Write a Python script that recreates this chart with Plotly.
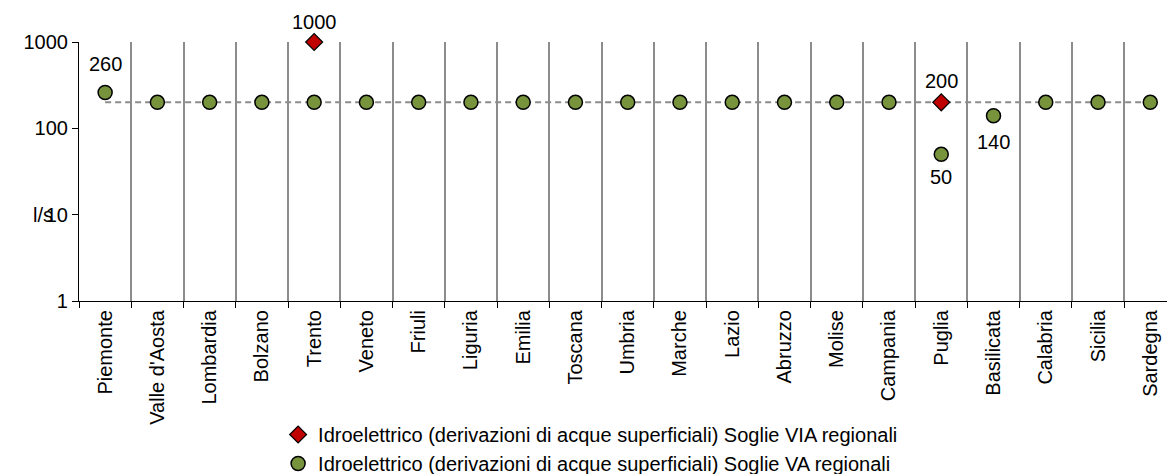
import math
import plotly.graph_objects as go

categories = ["Piemonte", "Valle d'Aosta", "Lombardia", "Bolzano", "Trento", "Veneto", "Friuli",
              "Liguria", "Emilia", "Toscana", "Umbria", "Marche", "Lazio", "Abruzzo", "Molise",
              "Campania", "Puglia", "Basilicata", "Calabria", "Sicilia", "Sardegna"]

soglie_via = [None, None, None, None, 1000, None, None, None, None, None, None, None, None, None,
              None, None, 200, None, None, None, None]

soglie_va = [260, 200, 200, 200, 200, 200, 200, 200, 200, 200, 200, 200, 200, 200, 200, 200,
             50, 140, 200, 200, 200]

riferimento = [200, 200, 200, 200, 200, 200, 200, 200, 200, 200, 200, 200, 200, 200, 200, 200,
               200, 200, 200, 200, 200]

# which points carry a data label
via_labelled = ["Trento", "Puglia"]
va_labelled = ["Piemonte", "Puglia", "Basilicata"]

# label offsets (pixels, styling only)
via_label_shift = {"Trento": 20, "Puglia": 21}
va_label_shift = {"Piemonte": 29, "Puglia": -23, "Basilicata": -26}

FONT = "Liberation Sans, Arial, sans-serif"
FS = 20

fig = go.Figure()

fig.add_trace(go.Scatter(
    x=categories, y=riferimento, mode="lines",
    line=dict(color="#8c8c8c", width=2, dash="6px,4px"),
    showlegend=False, hoverinfo="skip"))

fig.add_trace(go.Scatter(
    x=categories, y=soglie_via, mode="markers",
    name="Idroelettrico (derivazioni di acque superficiali) Soglie VIA regionali",
    marker=dict(symbol="diamond", size=13, color="#C00000", line=dict(color="black", width=1.2)),
    cliponaxis=False))

fig.add_trace(go.Scatter(
    x=categories, y=soglie_va, mode="markers",
    name="Idroelettrico (derivazioni di acque superficiali) Soglie VA regionali",
    marker=dict(symbol="circle", size=14, color="#77933C", line=dict(color="black", width=1.5)),
    cliponaxis=False))

# annotations on a log axis take log10 of the value
for cat, val in zip(categories, soglie_via):
    if cat in via_labelled and val is not None:
        fig.add_annotation(x=cat, y=math.log10(val), text=f"{val:g}", showarrow=False,
                           yshift=via_label_shift[cat], xanchor="center", yanchor="middle",
                           font=dict(family=FONT, size=FS, color="black"))

for cat, val in zip(categories, soglie_va):
    if cat in va_labelled:
        fig.add_annotation(x=cat, y=math.log10(val), text=f"{val:g}", showarrow=False,
                           yshift=va_label_shift[cat], xanchor="center", yanchor="middle",
                           font=dict(family=FONT, size=FS, color="black"))

fig.add_annotation(text="l/s", xref="paper", yref="y", x=-0.033, y=1, xanchor="center",
                   yanchor="middle", showarrow=False, font=dict(family=FONT, size=FS, color="black"))

fig.update_layout(
    width=1167, height=482,
    margin=dict(l=79, r=0, t=42, b=181, autoexpand=False),
    paper_bgcolor="white", plot_bgcolor="white",
    font=dict(family=FONT, size=FS, color="black"),
    showlegend=True,
    legend=dict(orientation="v", x=0.183, xanchor="left", yref="container", y=0.139, yanchor="top",
                font=dict(family=FONT, size=FS, color="black"), tracegroupgap=0,
                bgcolor="rgba(0,0,0,0)"),
    xaxis=dict(type="category", range=[-0.5, 20.32], tickson="boundaries",
               showgrid=True, gridcolor="#8c8c8c", gridwidth=1.5,
               showline=True, linecolor="black", linewidth=1.2,
               ticks="outside", ticklen=6, tickcolor="black", tickwidth=1.2,
               tickangle=-90, tickfont=dict(family=FONT, size=FS, color="black")),
    yaxis=dict(type="log", range=[0, 3], tickvals=[1, 10, 100, 1000],
               ticktext=["1", "10", "100", "1000"], showgrid=False,
               showline=True, linecolor="black", linewidth=1.2,
               ticks="outside", ticklen=6, tickcolor="black", tickwidth=1.2,
               tickfont=dict(family=FONT, size=FS, color="black"), zeroline=False),
)

fig.write_html("out.html", config={"displayModeBar": False},
               post_script="document.body.style.margin='0';document.body.style.overflow='hidden';"
                           "document.documentElement.style.overflow='hidden';")
